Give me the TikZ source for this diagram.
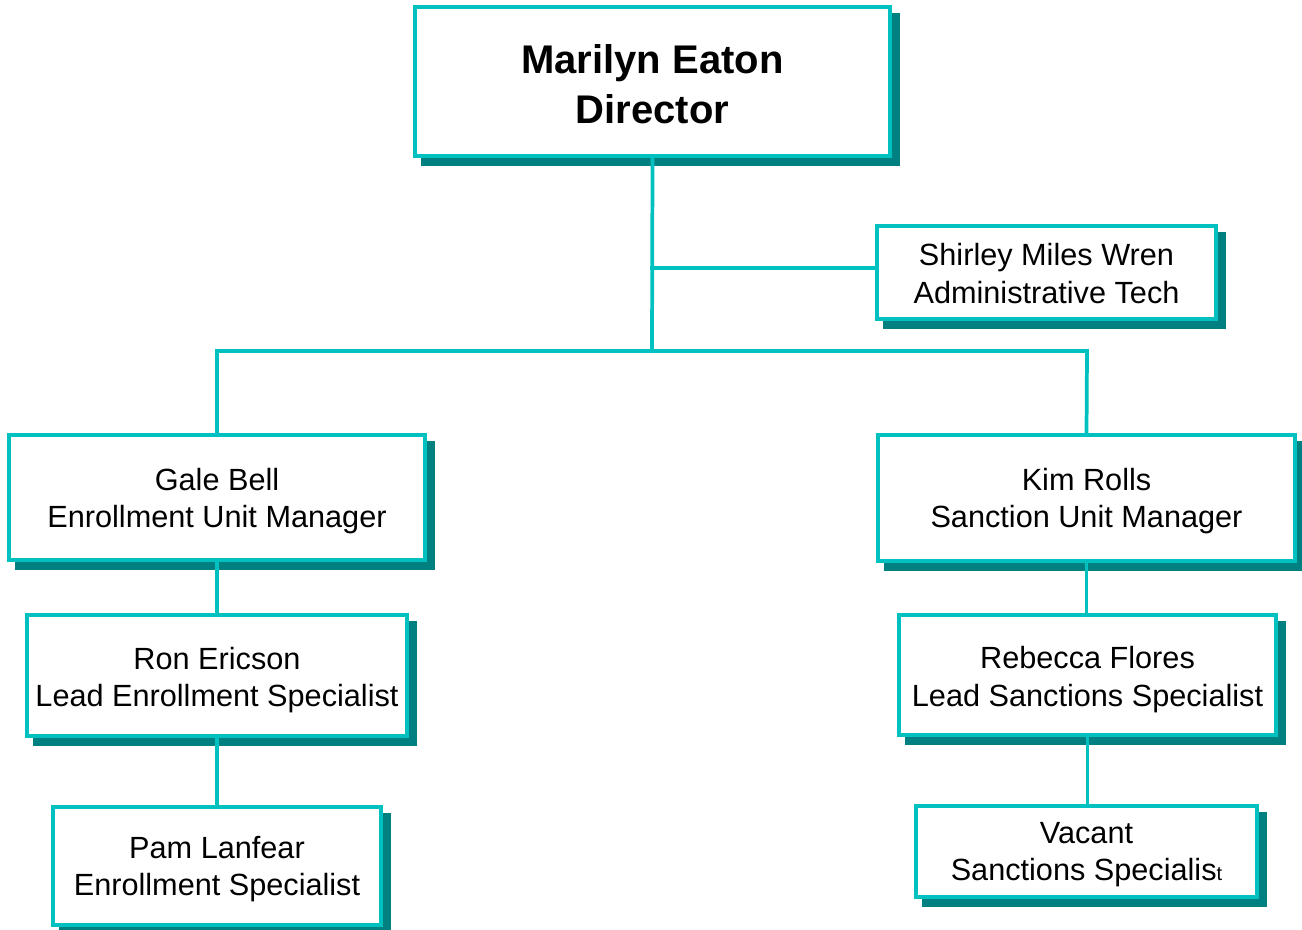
\documentclass[tikz,border=0pt]{standalone}
\usepackage{fontspec}
\setmainfont{Liberation Sans}
\usetikzlibrary{backgrounds}
\definecolor{rulecyan}{HTML}{00C0C0}
\definecolor{shadowteal}{HTML}{008080}
\tikzset{
  unitbox/.style 2 args={draw=rulecyan, line width=3pt, fill=white, inner sep=0pt,
    minimum width=#1*0.75pt, minimum height=#2*0.75pt},
  boxtext/.style={inner sep=0pt, align=center, font=\fontsize{23}{28.25}\selectfont},
  headtext/.style={inner sep=0pt, align=center, font=\fontsize{30}{37.5}\selectfont\bfseries},
  link/.style={draw=rulecyan, line width=2.8pt},
  boxshadow/.style={fill=shadowteal},
}
% teal drop shadow offset to the lower right of a named box
\newcommand\dropshadowof[1]{\fill[boxshadow] ([shift={(8,8)}]#1.north west) rectangle ([shift={(8,8)}]#1.south east);}
\begin{document}
\begin{tikzpicture}[x=0.75pt,y=-0.75pt]
\useasboundingbox (0,0) rectangle (1302,930);

% boxes
\node[unitbox={475}{149}] (dir) at (652.5,81.5) {};
\node[unitbox={339}{93}] (shirley) at (1046.5,272.5) {};
\node[unitbox={416}{125}] (gale) at (217,497.5) {};
\node[unitbox={417}{126}] (kim) at (1086.5,498) {};
\node[unitbox={380}{121}] (ron) at (217,675.5) {};
\node[unitbox={377}{120}] (rebecca) at (1087.5,675) {};
\node[unitbox={328}{118}] (pam) at (217,866) {};
\node[unitbox={341}{91}] (vacant) at (1086.5,851.5) {};

% box texts
\node[headtext] (dirtext) at ([yshift=-2.2pt]dir.center) {Marilyn Eaton\\Director};
\node[boxtext] (shirleytext) at ([yshift=-0.8pt]shirley.center) {Shirley Miles Wren\\Administrative Tech};
\node[boxtext] (galetext) at ([yshift=-2.6pt]gale.center) {Gale Bell\\Enrollment Unit Manager};
\node[boxtext] (kimtext) at ([yshift=-2.4pt]kim.center) {Kim Rolls\\Sanction Unit Manager};
\node[boxtext] (rontext) at ([yshift=-3.4pt]ron.center) {Ron Ericson\\Lead Enrollment Specialist};
\node[boxtext] (rebeccatext) at ([yshift=-3.2pt]rebecca.center) {Rebecca Flores\\Lead Sanctions Specialist};
\node[boxtext] (pamtext) at ([yshift=-2.4pt]pam.center) {Pam Lanfear\\Enrollment Specialist};
\node[boxtext] (vacanttext) at ([yshift=-2.4pt]vacant.center) {Vacant\\Sanctions Specialis{\fontsize{15}{15}\selectfont t}};

% shadows behind the boxes
\begin{scope}[on background layer]
  \dropshadowof{dir}
  \dropshadowof{shirley}
  \dropshadowof{gale}
  \dropshadowof{kim}
  \dropshadowof{ron}
  \dropshadowof{rebecca}
  \dropshadowof{pam}
  \dropshadowof{vacant}
\end{scope}

% junction points
\coordinate (tap) at (650,268);
\coordinate (bus) at (652,351);
\coordinate (busleft) at (217,351);
\coordinate (busright) at (1087,351);

% connectors
\draw[link] (dir.south) -- (bus);
\draw[link] (tap) -- (tap -| shirley.west);
\draw[link] (gale.north) -- (busleft) -- (busright) -- (kim.north);
\draw[link] (gale.south) -- (ron.north);
\draw[link] (ron.south) -- (pam.north);
\draw[link] (kim.south) -- (kim.south |- rebecca.north);
\draw[link] (rebecca.south) -- (rebecca.south |- vacant.north);
\end{tikzpicture}
\end{document}
